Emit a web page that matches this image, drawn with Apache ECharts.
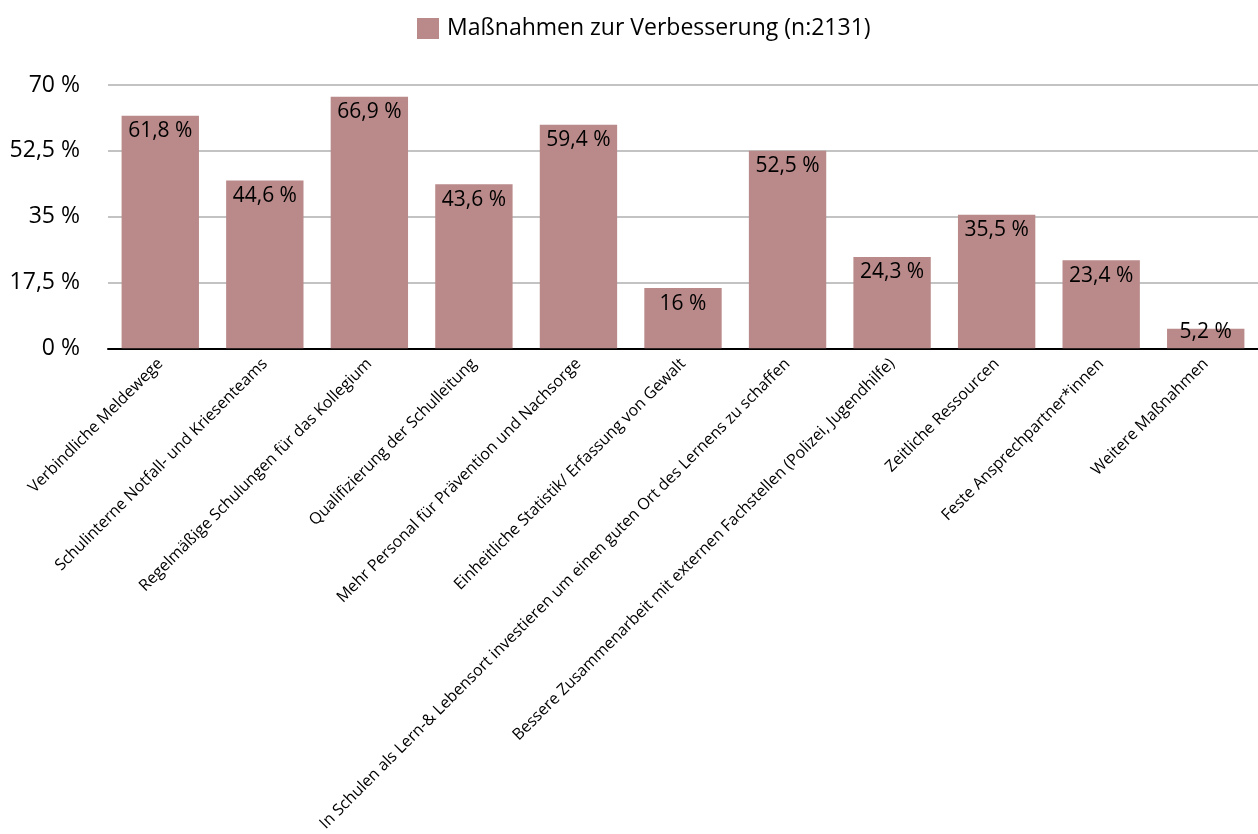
<!DOCTYPE html>
<html>
<head>
<meta charset="utf-8">
<script src="https://cdn.jsdelivr.net/npm/echarts@6/dist/echarts.min.js"></script>
<style>
  html, body { margin: 0; padding: 0; background: #fff; }
  #chart { width: 1258px; height: 834px; }
</style>
</head>
<body>
<div id="chart"></div>
<script>
const seriesName = 'Maßnahmen zur Verbesserung (n:2131)'
const categories = [
  'Verbindliche Meldewege',
  'Schulinterne Notfall- und Kriesenteams',
  'Regelmäßige Schulungen für das Kollegium',
  'Qualifizierung der Schulleitung',
  'Mehr Personal für Prävention und Nachsorge',
  'Einheitliche Statistik/ Erfassung von Gewalt',
  'In Schulen als Lern-& Lebensort investieren um einen guten Ort des Lernens zu schaffen',
  'Bessere Zusammenarbeit mit externen Fachstellen (Polizei, Jugendhilfe)',
  'Zeitliche Ressourcen',
  'Feste Ansprechpartner*innen',
  'Weitere Maßnahmen'
]
const values = [61.8, 44.6, 66.9, 43.6, 59.4, 16, 52.5, 24.3, 35.5, 23.4, 5.2]

const fmt = v => String(v).replace('.', ',') + ' %'
const font = '"Open Sans", sans-serif'

// short bars: label sits centred on the bar top, like the original
const barData = values.map(v => v < 10
  ? { value: v, label: { position: 'top', distance: -14 } }
  : v)

const chart = echarts.init(document.getElementById('chart'))
chart.setOption({
  animation: false,
  textStyle: { fontFamily: font },
  legend: {
    top: 12,
    left: 412,
    icon: 'rect',
    itemWidth: 22,
    itemHeight: 21,
    itemGap: 10,
    textStyle: { fontSize: 23, color: '#000', fontFamily: font, padding: [0, 0, 0, 3] },
    data: [seriesName]
  },
  grid: { left: 108, right: 0, top: 85, bottom: 485 },
  xAxis: {
    type: 'category',
    data: categories,
    axisLine: { lineStyle: { color: '#000', width: 2 } },
    axisTick: { show: false },
    axisLabel: {
      interval: 0,
      rotate: 45,
      margin: 13,
      fontSize: 16,
      color: '#000',
      fontFamily: font
    }
  },
  yAxis: {
    type: 'value',
    min: 0,
    max: 70,
    interval: 17.5,
    axisLine: { show: false },
    axisTick: { show: false },
    splitLine: { lineStyle: { color: '#c3c3c3', width: 2 } },
    axisLabel: {
      margin: 28,
      fontSize: 23,
      color: '#000',
      fontFamily: font,
      formatter: fmt
    }
  },
  series: [{
    name: seriesName,
    type: 'bar',
    data: barData,
    barWidth: '74%',
    itemStyle: { color: '#b98a89' },
    label: {
      show: true,
      position: 'insideTop',
      distance: 5,
      fontSize: 21,
      color: '#000',
      fontFamily: font,
      formatter: p => fmt(p.value)
    }
  }]
})
</script>
</body>
</html>
